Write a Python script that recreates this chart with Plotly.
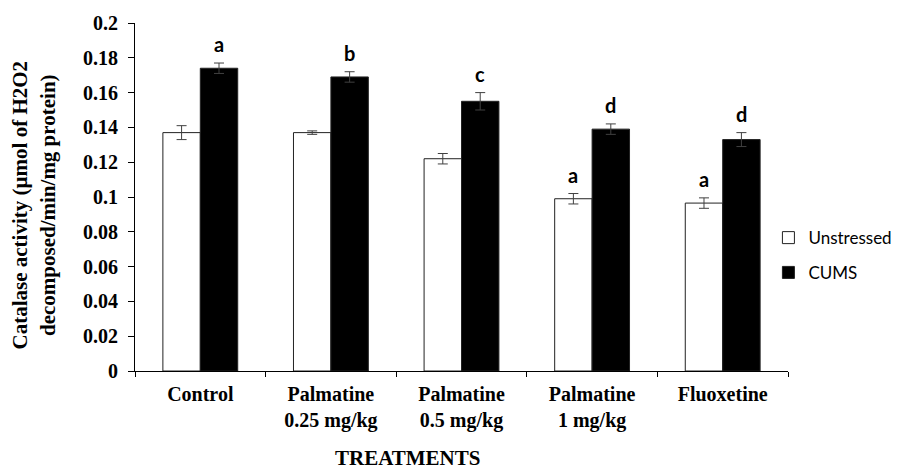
import plotly.graph_objects as go

# Catalase activity per treatment group
treatments = ["Control", "Palmatine<br>0.25 mg/kg", "Palmatine<br>0.5 mg/kg",
              "Palmatine<br>1 mg/kg", "Fluoxetine"]
unstressed = [0.137, 0.137, 0.122, 0.099, 0.0965]
unstressed_err = [0.004, 0.001, 0.003, 0.003, 0.003]
cums = [0.174, 0.169, 0.155, 0.139, 0.133]
cums_err = [0.003, 0.003, 0.005, 0.003, 0.004]

# Significance letters drawn above each bar
unstressed_letters = ["", "", "", "a", "a"]
cums_letters = ["a", "b", "c", "d", "d"]

y_ticks = [0, 0.02, 0.04, 0.06, 0.08, 0.1, 0.12, 0.14, 0.16, 0.18, 0.2]
y_tick_text = ["0", "0.02", "0.04", "0.06", "0.08", "0.1", "0.12", "0.14",
               "0.16", "0.18", "0.2"]

serif = "Liberation Serif"
sans = "Lato"
bargap = 0.427

fig = go.Figure()
fig.add_trace(go.Bar(
    name="Unstressed", x=treatments, y=unstressed,
    marker=dict(color="white", line=dict(color="#222222", width=1)),
    error_y=dict(type="data", array=unstressed_err, color="#404040",
                 thickness=1, width=5),
    legend="legend", showlegend=True,
))
fig.add_trace(go.Bar(
    name="CUMS", x=treatments, y=cums,
    marker=dict(color="black", line=dict(color="#222222", width=1)),
    error_y=dict(type="data", array=cums_err, color="#404040",
                 thickness=1, width=5),
    legend="legend2", showlegend=True,
))

# Letters above the error bars, offset to each bar's centre within the group
offset = (1 - bargap) / 4
annotations = []
for i in range(len(treatments)):
    for vals, errs, letters, sign in ((unstressed, unstressed_err, unstressed_letters, -1),
                                      (cums, cums_err, cums_letters, 1)):
        if letters[i]:
            annotations.append(dict(
                x=i + sign * offset, y=vals[i] + errs[i], xref="x", yref="y",
                text=letters[i], showarrow=False, yanchor="bottom", yshift=5,
                font=dict(family=sans, size=20, color="black", weight="bold"),
            ))

annotations.append(dict(
    x=-0.1555, y=0.477, xref="paper", yref="paper", textangle=-90,
    text="Catalase activity (µmol of H2O2<br>decomposed/min/mg protein)",
    showarrow=False, xanchor="center", yanchor="middle",
    font=dict(family=serif, size=21, color="black", weight="bold"),
))
annotations.append(dict(
    x=0.4167, y=-0.288, xref="paper", yref="paper", text="TREATMENTS",
    showarrow=False, xanchor="center", yanchor="bottom", borderpad=0,
    font=dict(family=serif, size=21, color="black", weight="bold"),
))

legend_font = dict(family=sans, size=17, color="black")
fig.update_layout(
    width=909, height=469,
    margin=dict(l=135, r=102, t=20, b=98),
    paper_bgcolor="white", plot_bgcolor="white",
    barmode="group", bargap=bargap, bargroupgap=0,
    showlegend=True,
    annotations=annotations,
    legend=dict(x=0.970, y=0.382, xanchor="left", yanchor="middle",
                font=legend_font, bgcolor="rgba(0,0,0,0)", borderwidth=0),
    legend2=dict(x=0.970, y=0.282, xanchor="left", yanchor="middle",
                 font=legend_font, bgcolor="rgba(0,0,0,0)", borderwidth=0),
    xaxis=dict(
        type="category", showline=True, linecolor="black", linewidth=1,
        ticks="outside", tickson="boundaries", ticklen=5, tickcolor="black",
        showgrid=False, zeroline=False, ticklabelstandoff=5,
        tickfont=dict(family=serif, size=20, color="black", weight="bold"),
    ),
    yaxis=dict(
        range=[0, 0.2], tickvals=y_ticks, ticktext=y_tick_text,
        showline=True, linecolor="black", linewidth=1,
        ticks="outside", ticklen=6, tickcolor="black",
        showgrid=False, zeroline=False, ticklabelstandoff=6,
        tickfont=dict(family=serif, size=20, color="black", weight="bold"),
    ),
)

fig.write_html("out.html")
